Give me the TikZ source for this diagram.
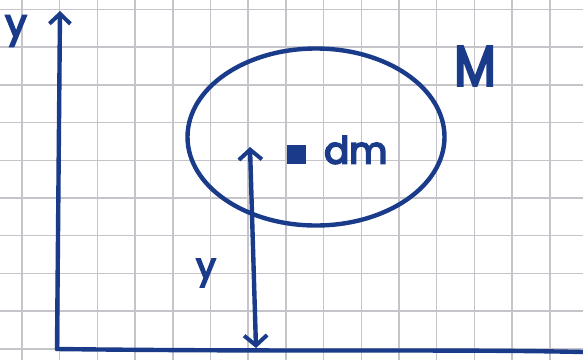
\documentclass[tikz,border=0pt]{standalone}
\usepackage{fontspec}
\setmainfont{Poppins}
\newfontfamily\hand[FakeBold=5]{Poppins}
\usetikzlibrary{arrows.meta,shapes.geometric}
\definecolor{ink}{HTML}{1A3B8A}
\definecolor{gridc}{HTML}{C4C4CA}
\tikzset{
  pen/.style={draw=ink, line width=4.4pt, line cap=round, line join=round},
  gridline/.style={draw=gridc, line width=1.5pt},
  barb/.style={-{Straight Barb[length=10pt,width=21pt,line width=4pt]}},
  dbarb/.style={{Straight Barb[length=10pt,width=23pt,line width=4pt]}-{Straight Barb[length=10pt,width=23pt,line width=4pt]}},
  lbl/.style={text=ink, inner sep=0pt, anchor=center}
}
\begin{document}
\begin{tikzpicture}[x=1pt,y=-1pt]
\useasboundingbox (0,0) rectangle (583,360);
\fill[white] (0,0) rectangle (583,360);
% grid
\foreach \k in {0,...,15} \draw[gridline] ({22+37.7*\k},0) -- ({22+37.7*\k},360);
\foreach \k in {0,...,9} \draw[gridline] (0,{9.5+37.7*\k}) -- (583,{9.5+37.7*\k});
% axes
\coordinate (origin) at (57,349);
\coordinate (ytop) at (60,11);
\coordinate (xend) at (583,352);
\draw[pen, barb] (origin) -- (ytop);
\draw[pen] (origin) .. controls (300,352) and (450,349) .. (xend);
% body M
\node[pen, ellipse, draw, minimum width=257pt, minimum height=177pt, inner sep=0pt] (body) at (316,137) {};
% mass element
\node[fill=ink, minimum size=19pt, inner sep=0pt] (dmsq) at (296,154) {};
\node[lbl, font=\hand\fontsize{37}{40}\selectfont, anchor=west] (dm) at (324,150) {dm};
% height arrow
\coordinate (hbot) at (256,348);
\coordinate (htop) at (250,147);
\draw[pen, dbarb] (hbot) -- (htop);
% labels
\node[lbl, font=\hand\fontsize{38}{40}\selectfont] (ylab) at (16,31) {y};
\node[lbl, font=\hand\fontsize{35}{40}\selectfont] (hlab) at (206,273) {y};
\node[lbl, font=\hand\fontsize{56}{60}\selectfont, xscale=0.85] (mlab) at (475,66) {M};
\end{tikzpicture}
\end{document}
